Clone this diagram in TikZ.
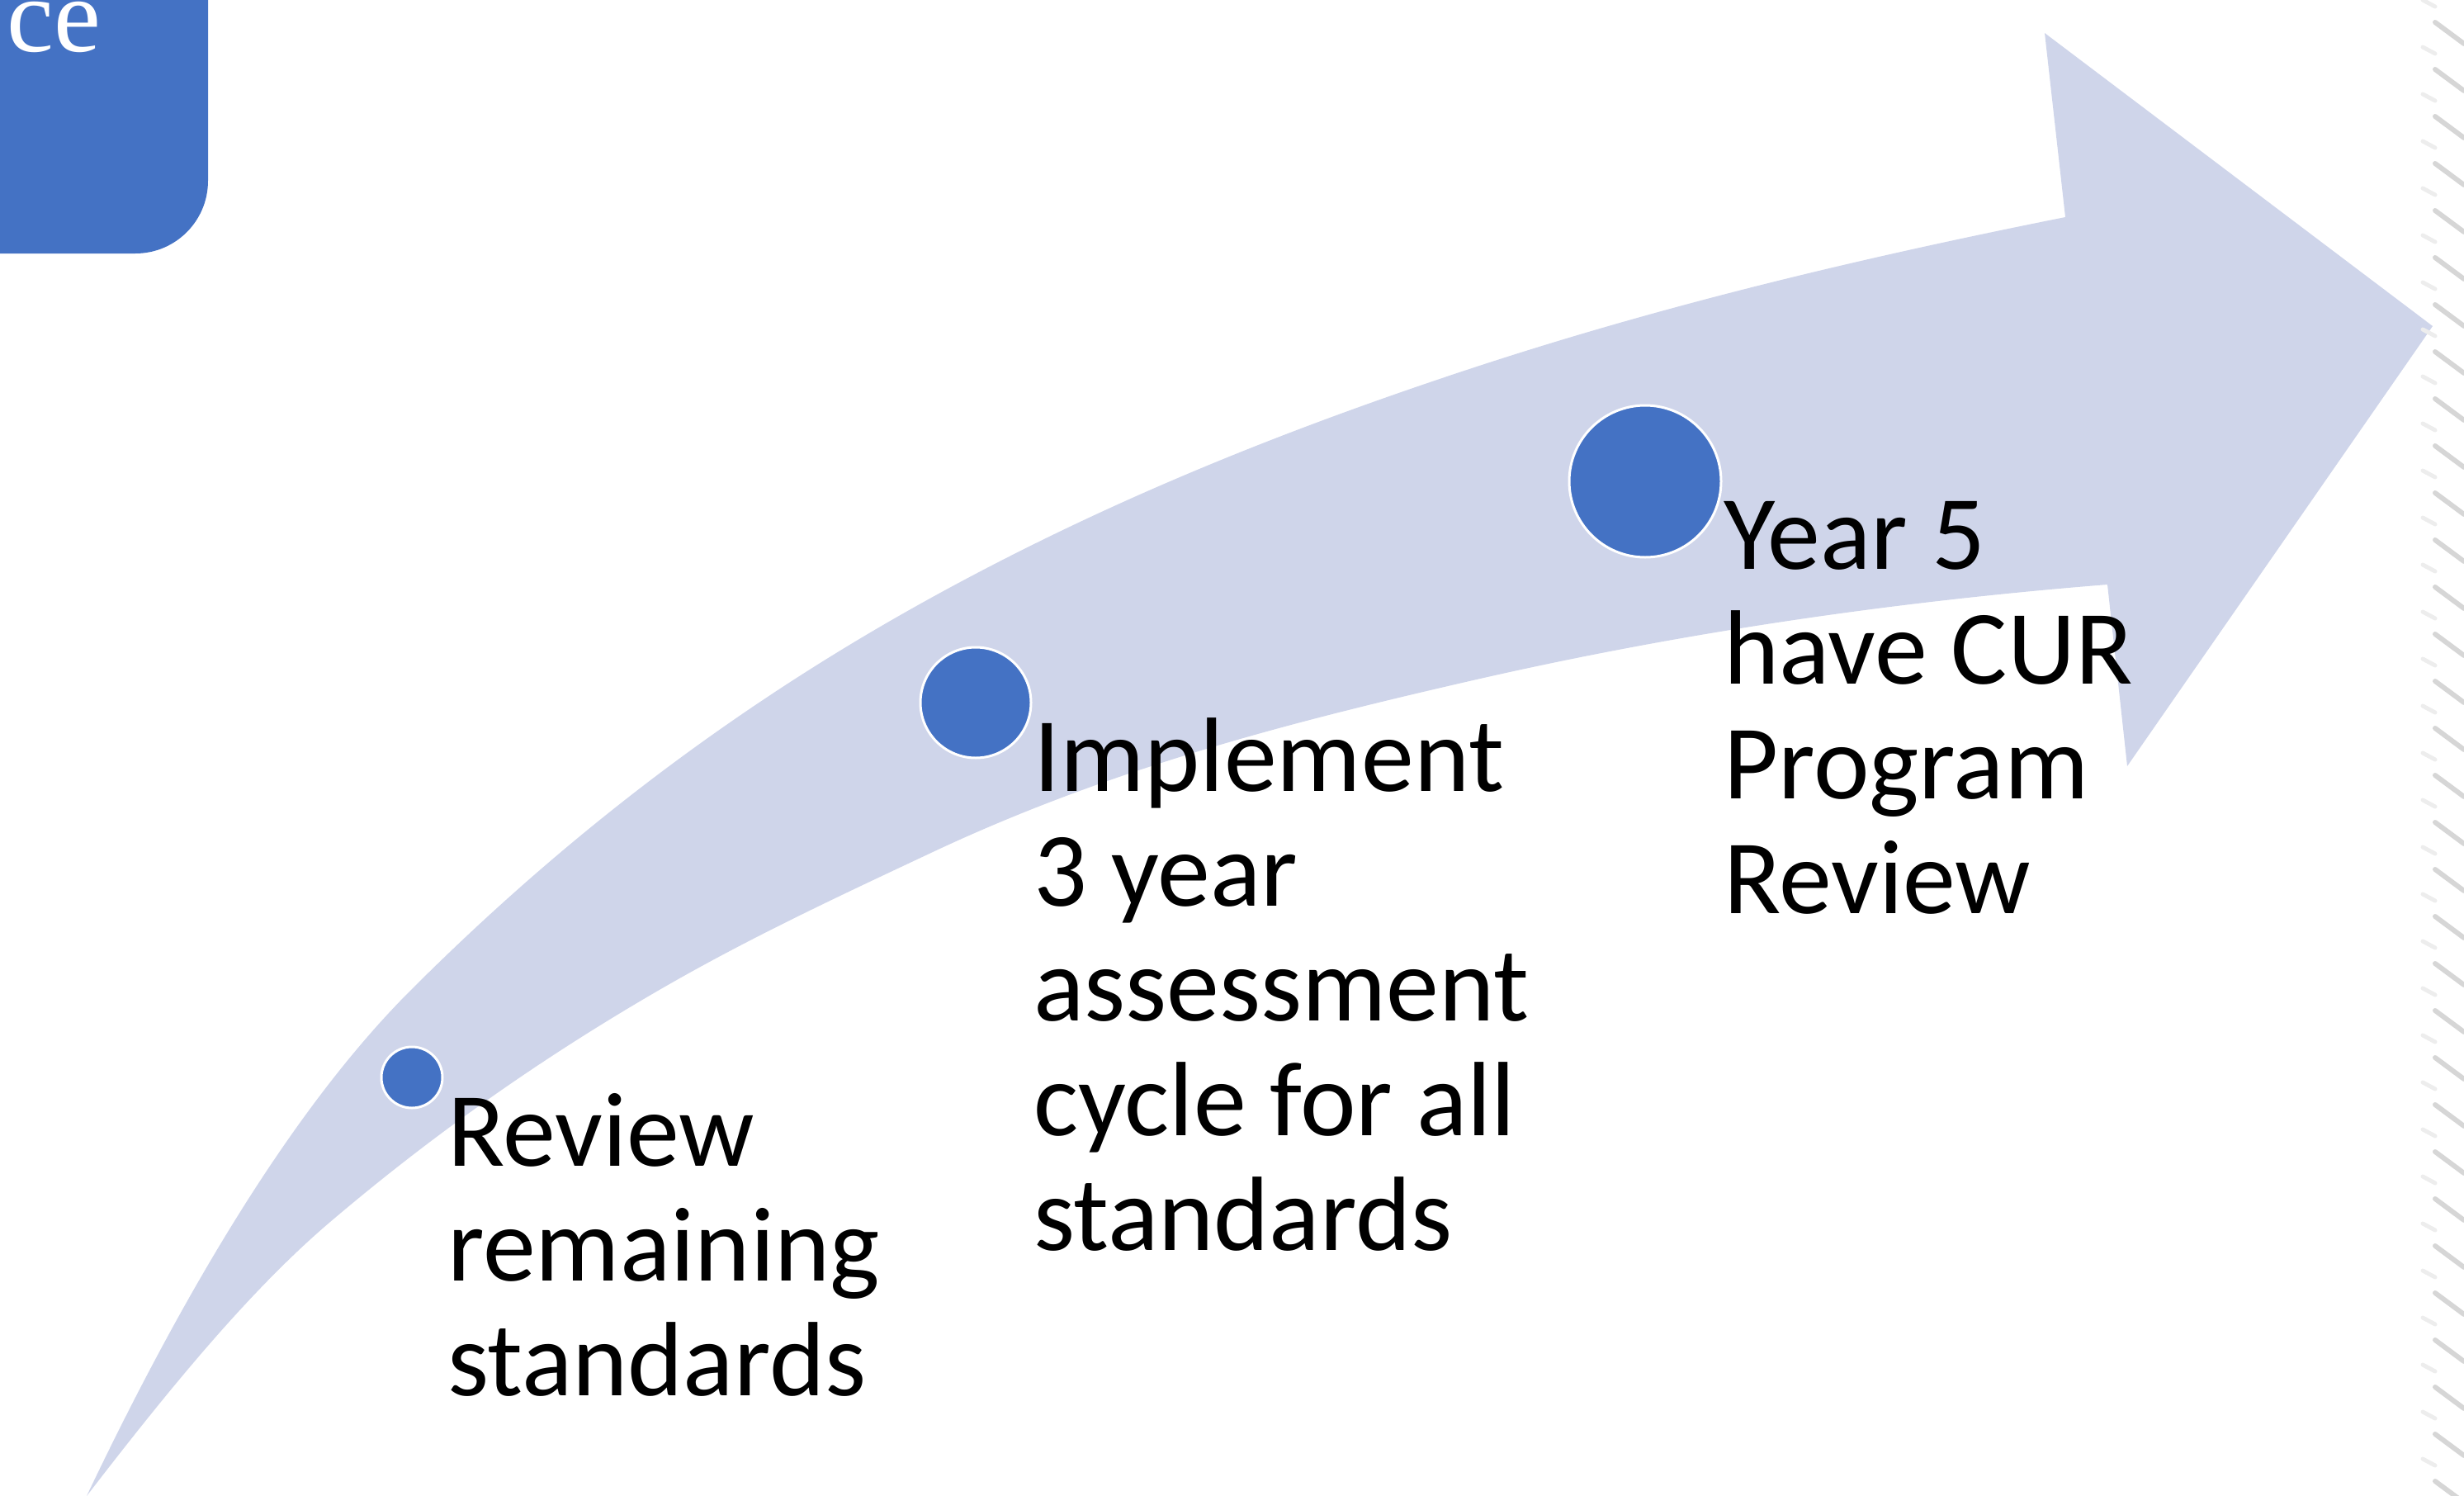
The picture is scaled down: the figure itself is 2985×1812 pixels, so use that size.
\documentclass[tikz,border=0pt]{standalone}
\usepackage{fontspec}
\setmainfont{Carlito}
\newfontfamily\boxfont{Liberation Serif}
\definecolor{band}{HTML}{CFD5EA}
\definecolor{dotblue}{HTML}{4472C4}
\tikzset{
  dotnode/.style={circle, fill=dotblue, draw=white, line width=3pt, inner sep=0pt},
  labeltext/.style={anchor=base west, inner sep=0pt, align=left, text=black,
    font=\fontsize{128}{139}\selectfont},
  texture/.style={draw=black!16, line width=6pt, line cap=round}
}
\begin{document}
\begin{tikzpicture}[x=1pt, y=-1pt]
\useasboundingbox (0,0) rectangle (2985,1812);
\begin{scope}
\clip (0,0) rectangle (2985,1812);
% curved arrow band
\fill[band]
  (105,1812) .. controls (235.7,1537.5) and (366.3,1330.7) .. (497,1200)
  .. controls (708,989) and (919,839) .. (1130,723)
  .. controls (1346.7,603.8) and (1563.3,518.5) .. (1780,447)
  .. controls (2020.7,367.6) and (2261.3,311.1) .. (2502,263)
  -- (2477,40) -- (2947,395) -- (2577,928) -- (2553,708)
  .. controls (2295.3,728.6) and (2037.7,765.7) .. (1780,825)
  .. controls (1563.3,874.8) and (1346.7,930.2) .. (1130,1032)
  .. controls (1019,1084.2) and (908,1135.6) .. (797,1200)
  .. controls (664.7,1276.7) and (532.3,1367.5) .. (400,1480)
  .. controls (301.7,1563.6) and (203.3,1684.2) .. (105,1812)
  -- cycle;
% top-left box
\fill[dotblue, rounded corners=88pt] (-300,-300) rectangle (252,307);
\node[anchor=base west, inner sep=0pt, text height=56pt, text depth=0pt, text=white,
  font=\boxfont\fontsize{128}{140}\selectfont] (boxtext) at (8,62) {ce};
% right edge texture
\foreach \yy in {-30,27,...,1830} {
  \draw[texture] (2950,\yy) -- (2985,\yy+26);
  \draw[draw=black!7, line width=5pt, line cap=round] (2935,\yy+30) -- (2950,\yy+38);
}
\end{scope}
% dots
\node[dotnode, minimum size=74pt] (d1) at (499,1305) {};
\node[dotnode, minimum size=134pt] (d2) at (1182,851) {};
\node[dotnode, minimum size=184pt] (d3) at (1993,583) {};
% labels (anchor is the baseline of the last line)
\node[labeltext] (t1) at (542,1690) {Review\\remaining\\standards};
\node[labeltext] (t2) at (1252,1514) {Implement\\3 year\\assessment\\cycle for all\\standards};
\node[labeltext] (t3) at (2088,1106) {Year 5\\have CUR\\Program\\Review};
\end{tikzpicture}
\end{document}
